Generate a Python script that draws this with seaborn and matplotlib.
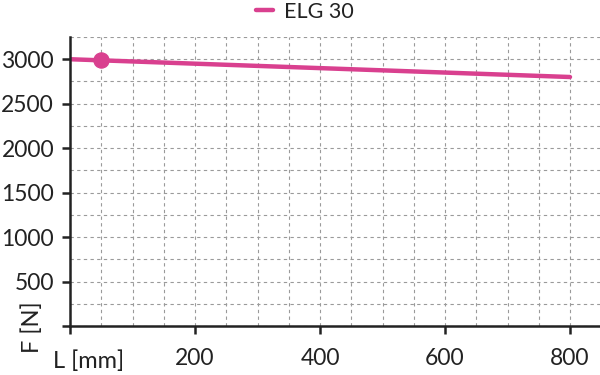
import matplotlib
matplotlib.use("Agg")
import matplotlib.pyplot as plt
import seaborn as sns
import pandas as pd
import numpy as np
from matplotlib.lines import Line2D

# Data
L_mm = [0, 800]
F_N = [3000, 2800]
marker_L = [50]
marker_F = [2990]
series_name = "ELG 30"
x_ticks = [0, 200, 400, 600, 800]
x_tick_labels = ["", "200", "400", "600", "800"]
y_ticks = [0, 500, 1000, 1500, 2000, 2500, 3000]
y_tick_labels = ["", "500", "1000", "1500", "2000", "2500", "3000"]

sns.set_theme(style="white")
plt.rcParams['font.family'] = ['Lato', 'DejaVu Sans']

color = "#d9408f"
txt = "#222222"
df = pd.DataFrame({"L": L_mm, "F": F_N, "series": series_name})

fig = plt.figure(figsize=(6, 3.75), dpi=100)
ax = fig.add_axes([70/600, 49/375, 530/600, 289/375])

sns.lineplot(data=df, x="L", y="F", hue="series", palette=[color], linewidth=3.2, ax=ax, legend=False)
sns.scatterplot(x=marker_L, y=marker_F, color=color, s=120, ax=ax, zorder=5, edgecolor=color)

ax.set_xlim(0, 848)
ax.set_ylim(0, 3250)
ax.set_xticks(np.arange(0, 849, 50), minor=True)
ax.set_yticks(np.arange(0, 3251, 250), minor=True)
ax.set_xticks(x_ticks)
ax.set_xticklabels(x_tick_labels)
ax.set_yticks(y_ticks)
ax.set_yticklabels(y_tick_labels)
ax.grid(which="both", linestyle=(0, (3, 3)), color="#9a9a9a", linewidth=0.8)
ax.tick_params(which="major", direction="out", length=5.5, width=1.8, color=txt,
               labelsize=16.5, labelcolor=txt, bottom=True, left=True)
ax.tick_params(which="minor", length=0)
ax.tick_params(axis="x", pad=10)
ax.tick_params(axis="y", pad=6)
for s in ["top", "right"]:
    ax.spines[s].set_visible(False)
for s in ["left", "bottom"]:
    ax.spines[s].set_color(txt)
    ax.spines[s].set_linewidth(1.8)
ax.set_xlabel("")
ax.set_ylabel("")

fig.text(89/600, 1 - 361/375, "L [mm]", fontsize=17, color=txt, ha="center", va="center")
fig.text(32/600, 1 - 327/375, "F [N]", fontsize=17, color=txt, ha="center", va="center", rotation=90)

h = [Line2D([0], [0], color=color, linewidth=3.2)]
fig.legend(h, [series_name], loc="center", bbox_to_anchor=(305/600, 1 - 12/375), frameon=False,
           fontsize=15.5, handlelength=0.8, handletextpad=0.5, labelcolor=txt)

fig.savefig("out.png", dpi=100)
